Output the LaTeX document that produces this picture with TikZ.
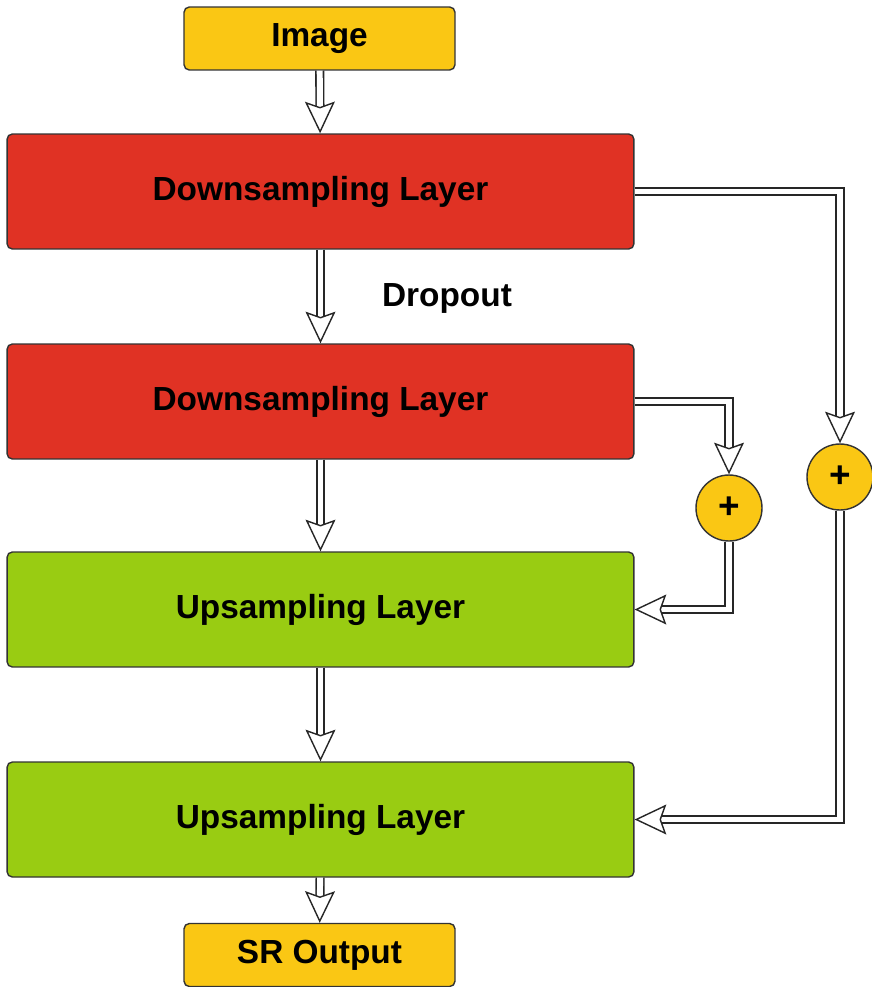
\documentclass[tikz,border=0pt]{standalone}
\usepackage{fontspec}
\setmainfont{Liberation Sans}
\usetikzlibrary{arrows.meta}

\definecolor{boxyellow}{RGB}{250,199,20}
\definecolor{boxred}{RGB}{224,50,36}
\definecolor{boxgreen}{RGB}{153,204,18}

\tikzset{
  layer/.style={draw=black!80, line width=0.8pt, rounded corners=3pt,
    minimum width=12.54cm, minimum height=2.3cm, font=\fontsize{19}{22}\selectfont\bfseries},
  io/.style={draw=black!80, line width=0.8pt, rounded corners=3pt, fill=boxyellow,
    minimum width=5.42cm, minimum height=1.26cm, font=\fontsize{19}{22}\selectfont\bfseries},
  plus/.style={circle, draw=black!80, line width=0.8pt, fill=boxyellow,
    minimum size=1.32cm, inner sep=0pt, font=\fontsize{21}{22}\selectfont\bfseries},
  flow/.style={draw=black!85, double=white, double distance=3.4pt, line width=0.9pt,
    -{Stealth[fill=white, length=18pt, width=17pt, inset=3pt, line width=0.8pt]}}
}

\begin{document}
\begin{tikzpicture}[x=0.02cm, y=-0.02cm]
        \useasboundingbox (0,0) rectangle (872,987);
        \node[io] (img) at (319.5,38.5) {Image};
        \node[layer, fill=boxred] (d1) at (320.5,191.5) {Downsampling Layer};
        \node[layer, fill=boxred] (d2) at (320.5,401.5) {Downsampling Layer};
        \node[layer, fill=boxgreen] (u1) at (320.5,609.5) {Upsampling Layer};
        \node[layer, fill=boxgreen] (u2) at (320.5,819.5) {Upsampling Layer};
        \node[io] (out) at (319.5,955) {SR Output};
        \node[plus] (p1) at (729,508) {+};
        \node[plus] (p2) at (840,477) {+};
        \node[font=\fontsize{19}{22}\selectfont\bfseries] (drop) at (447,298) {Dropout};
        \draw[flow] (img) to (d1);
        \draw[flow] (d1) to (d2);
        \draw[flow] (d2) to (u1);
        \draw[flow] (u1) to (u2);
        \draw[flow] (u2) to (out);
        \draw[flow] (d1.east) -| (p2.north);
        \draw[flow] (d2.east) -| (p1.north);
        \draw[flow] (p1.south) |- (u1.east);
        \draw[flow] (p2.south) |- (u2.east);
    \end{tikzpicture}
\end{document}
